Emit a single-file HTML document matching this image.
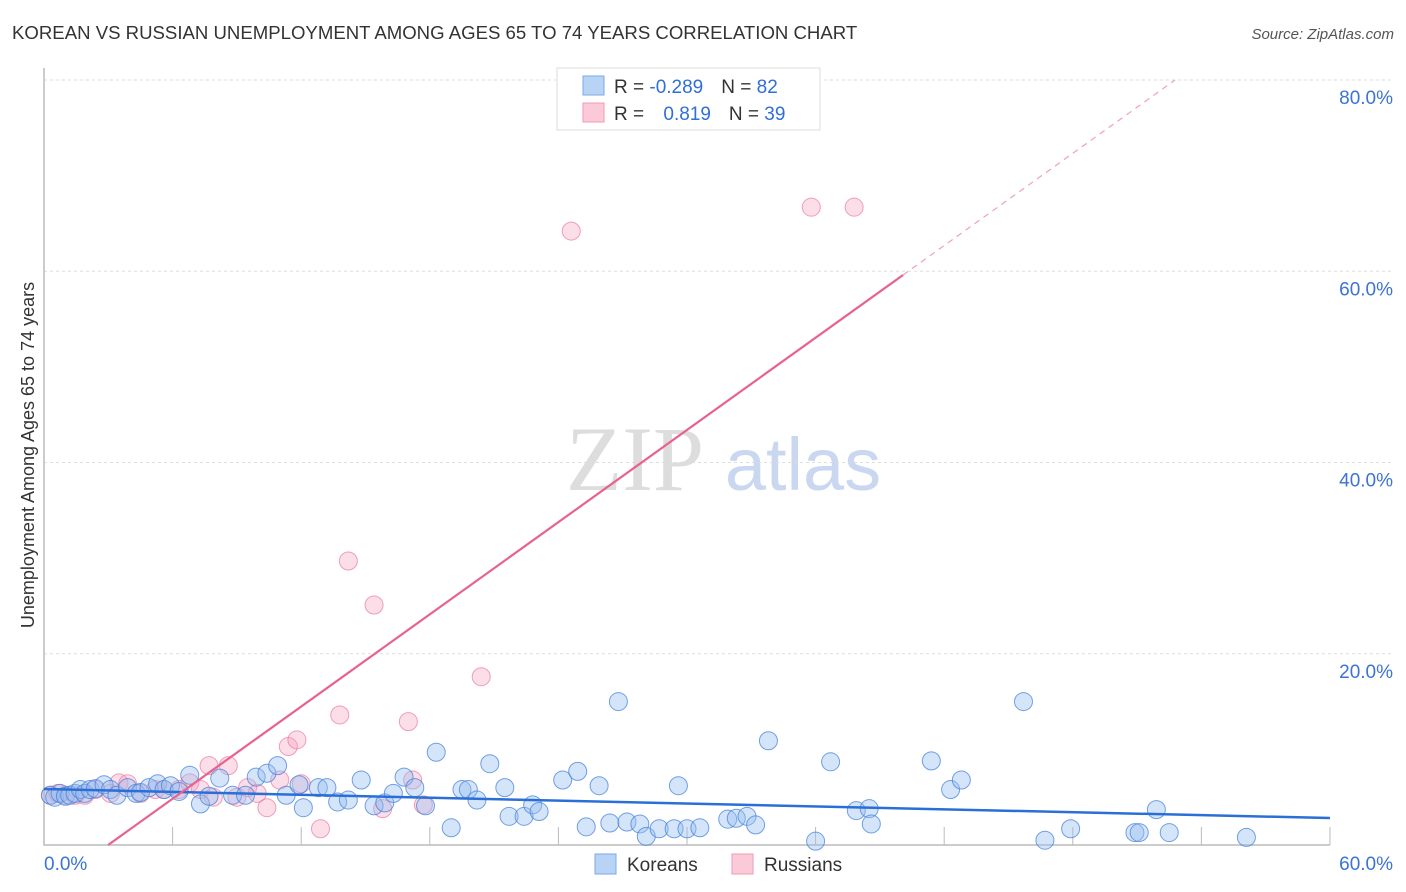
<!DOCTYPE html>
<html><head><meta charset="utf-8"><style>
body{margin:0;background:#fff;font-family:"Liberation Sans",sans-serif;}
svg{display:block}
</style></head><body>
<svg id="chart" width="1406" height="892" xmlns="http://www.w3.org/2000/svg">
<text x="12" y="39" font-size="18.6" fill="#333">KOREAN VS RUSSIAN UNEMPLOYMENT AMONG AGES 65 TO 74 YEARS CORRELATION CHART</text>
<text x="1394" y="39" font-size="15" fill="#555" font-style="italic" text-anchor="end">Source: ZipAtlas.com</text>
<g>
<text x="635" y="490" font-size="92" fill="#ddd" font-family="Liberation Serif,serif" text-anchor="middle">ZIP</text>
<text x="803" y="490" font-size="74" fill="#c9d8f0" text-anchor="middle">atlas</text>
</g>
<g id="grid"></g>
<g id="axes"></g>
<text transform="translate(34,455) rotate(-90)" font-size="18" fill="#333" text-anchor="middle">Unemployment Among Ages 65 to 74 years</text>
<g id="points"></g>
<g id="lines"></g>
<g>
<rect x="557" y="68" width="263" height="62" fill="#fff" stroke="#ddd"/>
<rect x="583" y="76" width="21" height="19" fill="#b9d3f5" stroke="#7aa8e8"/>
<rect x="583" y="103" width="21" height="19" fill="#fbc9d8" stroke="#f09ab5"/>
<text x="614" y="93" font-size="19" fill="#333">R = <tspan fill="#2f6fd6">-0.289</tspan><tspan dx="18">N = </tspan><tspan fill="#2f6fd6">82</tspan></text>
<text x="614" y="120" font-size="19" fill="#333">R = <tspan fill="#2f6fd6" dx="14">0.819</tspan><tspan dx="18">N = </tspan><tspan fill="#2f6fd6">39</tspan></text>
</g>
<g>
<rect x="595" y="854" width="21" height="20" fill="#b9d3f5" stroke="#7aa8e8"/>
<text x="627" y="871" font-size="19" fill="#333">Koreans</text>
<rect x="732" y="854" width="21" height="20" fill="#fbc9d8" stroke="#f09ab5"/>
<text x="764" y="871" font-size="19" fill="#333">Russians</text>
</g>
</svg>
<script>
const yTicks=[20,40,60,80];
const yTickLabels=["20.0%","40.0%","60.0%","80.0%"];
const xTickVals=[0,6,12,18,24,30,36,42,48,54,60];
const koreanX=[0.3,0.5,0.75,1.0,1.2,1.45,1.7,1.9,2.15,2.4,2.8,3.1,3.4,3.9,4.3,4.5,4.9,5.3,5.6,5.9,6.3,6.8,7.3,7.7,8.2,8.8,9.4,9.9,10.4,10.9,11.3,11.9,12.1,12.8,13.2,13.7,14.2,14.8,15.4,15.9,16.3,16.8,17.3,17.8,18.3,19.0,19.5,19.8,20.2,20.8,21.5,21.7,22.4,22.8,23.1,24.2,24.9,25.3,25.9,26.4,26.8,27.2,27.8,28.1,28.7,29.4,29.6,30.0,30.6,31.9,32.3,32.8,33.2,33.8,36.0,36.7,37.9,38.5,38.6,41.4,42.3,42.8,45.7,46.7,47.9,50.9,51.1,51.9,52.5,56.1];
const koreanY=[5.2,5.0,5.4,5.1,5.2,5.4,5.8,5.4,5.8,5.9,6.3,5.8,5.2,6.0,5.4,5.5,6.0,6.4,5.8,6.2,5.6,7.3,4.3,5.1,7.0,5.2,5.2,7.1,7.5,8.3,5.2,6.3,3.9,6.0,6.0,4.5,4.7,6.8,4.1,4.4,5.4,7.1,6.0,4.1,9.7,1.8,5.8,5.8,4.7,8.5,6.0,3.0,3.0,4.2,3.5,6.8,7.7,1.9,6.2,2.3,15.0,2.4,2.2,0.9,1.7,1.7,6.2,1.7,1.8,2.7,2.8,3.0,2.1,10.9,0.4,8.7,3.6,3.8,2.2,8.8,5.8,6.8,15.0,0.5,1.7,1.3,1.3,3.7,1.3,0.8];
const russianX=[0.3,0.65,1.0,1.45,1.9,2.4,3.1,3.5,3.9,4.5,5.2,5.6,6.3,6.8,7.3,7.7,7.9,8.6,9.0,9.5,9.95,10.4,11.0,11.4,11.8,12.0,12.9,13.8,14.2,15.4,15.8,17.2,17.0,17.7,20.4,24.6,35.8,37.8];
const russianY=[5.2,5.4,5.2,5.2,5.2,5.8,5.4,6.5,6.4,5.4,5.8,5.8,5.8,6.5,5.8,8.3,5.0,8.3,5.0,6.0,5.4,3.9,6.8,10.3,11.0,6.4,1.7,13.6,29.7,25.1,3.8,6.8,12.9,4.2,17.6,64.2,66.7,66.7];
const blueTrend=[5.86,2.82]; // y at x=0 and x=60
const pinkTrend=[2.99,1.607]; // x-intercept, slope
const pinkSolidEnd=40.08, pinkDashEnd=60;
const X=v=>44+v*21.433, Y=v=>845-v*9.5625;
const NS="http://www.w3.org/2000/svg";
function mk(t,a,p){const e=document.createElementNS(NS,t);for(const k in a)e.setAttribute(k,a[k]);p.appendChild(e);return e;}
const grid=document.getElementById('grid'),axes=document.getElementById('axes'),pts=document.getElementById('points'),lines=document.getElementById('lines');
yTicks.forEach((v,i)=>{
 const l=mk('line',{x1:44,x2:1394,y1:Y(v),y2:Y(v),stroke:'#ddd','stroke-dasharray':'3,3'},grid);
 
 
 const t=mk('text',{x:1393,y:Y(v)+24,'font-size':19,fill:'#3b73d6','text-anchor':'end'},grid);
 t.textContent=yTickLabels[i];
 
 
});
const ax=mk('path',{d:`M44 68 V${Y(0)} H${X(60)}`,fill:'none',stroke:'#bbb','stroke-width':1.5},axes);


xTickVals.forEach(v=>{
 const t=mk('line',{x1:X(v),x2:X(v),y1:Y(0),y2:Y(0)-18,stroke:'#bbb'},axes);
 
 
});
const xl0=mk('text',{x:44,y:870,'font-size':19,fill:'#3b73d6'},axes);xl0.textContent='0.0%';


const xl1=mk('text',{x:1393,y:870,'font-size':19,fill:'#3b73d6','text-anchor':'end'},axes);xl1.textContent='60.0%';


russianX.forEach((v,i)=>{
 const c=mk('circle',{cx:X(v),cy:Y(russianY[i]),r:9,fill:'rgba(246,160,188,0.35)',stroke:'rgba(236,120,160,0.7)'},pts);
 
 
});
koreanX.forEach((v,i)=>{
 const c=mk('circle',{cx:X(v),cy:Y(koreanY[i]),r:9,fill:'rgba(150,190,240,0.4)',stroke:'rgba(70,130,220,0.75)'},pts);
 
 
});
const bl=mk('line',{x1:X(0),y1:Y(blueTrend[0]),x2:X(60),y2:Y(blueTrend[1]),stroke:'#2a6fd8','stroke-width':2.5},lines);


const py=x=>(x-pinkTrend[0])*pinkTrend[1];
const pl=mk('line',{x1:X(pinkTrend[0]),y1:Y(0),x2:X(pinkSolidEnd),y2:Y(py(pinkSolidEnd)),stroke:'#e8628e','stroke-width':2.2},lines);


const xe=Math.min(pinkDashEnd,pinkTrend[0]+80/pinkTrend[1]);
const pd=mk('line',{x1:X(pinkSolidEnd),y1:Y(py(pinkSolidEnd)),x2:X(xe),y2:Y(py(xe)),stroke:'#f0a0b8','stroke-width':1.2,'stroke-dasharray':'6,5'},lines);


</script>
</body></html>
